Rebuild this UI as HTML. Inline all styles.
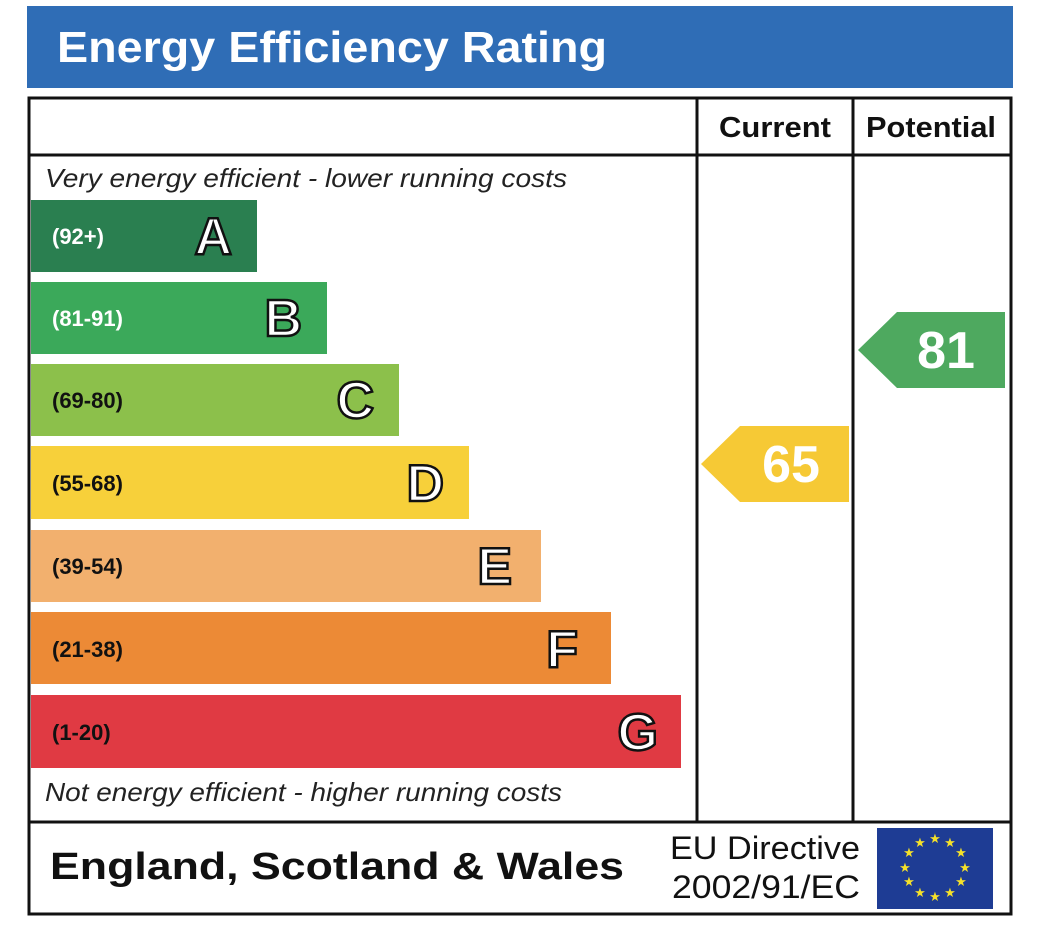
<!DOCTYPE html>
<html><head><meta charset="utf-8"><style>body{margin:0;background:#fff}svg{display:block}text{font-family:"Liberation Sans",Arial,sans-serif}</style></head>
<body>
<svg width="1048" height="934" viewBox="0 0 1048 934" xmlns="http://www.w3.org/2000/svg">
<rect x="27" y="6" width="986" height="82" fill="#2f6db6"/>
<text x="57" y="62" font-size="44" font-weight="bold" fill="#fff" textLength="550" lengthAdjust="spacingAndGlyphs">Energy Efficiency Rating</text>
<rect x="29" y="98" width="982" height="816" fill="#fff" stroke="#111" stroke-width="3"/>
<line x1="29" y1="155" x2="1011" y2="155" stroke="#111" stroke-width="3"/>
<line x1="29" y1="822" x2="1011" y2="822" stroke="#111" stroke-width="3"/>
<line x1="697" y1="98" x2="697" y2="822" stroke="#111" stroke-width="3"/>
<line x1="853" y1="98" x2="853" y2="822" stroke="#111" stroke-width="3"/>
<text x="719" y="137" font-size="29" font-weight="bold" fill="#111" textLength="112" lengthAdjust="spacingAndGlyphs">Current</text>
<text x="866" y="137" font-size="29" font-weight="bold" fill="#111" textLength="130" lengthAdjust="spacingAndGlyphs">Potential</text>
<text x="45" y="187" font-size="26" font-style="italic" fill="#222" textLength="522" lengthAdjust="spacingAndGlyphs">Very energy efficient - lower running costs</text>
<text x="45" y="801" font-size="26" font-style="italic" fill="#222" textLength="517" lengthAdjust="spacingAndGlyphs">Not energy efficient - higher running costs</text>
<g font-weight="bold">
<rect x="31" y="200" width="226" height="72" fill="#2a7f50"/>
<text x="52" y="244" font-size="22" fill="#fff">(92+)</text>
<text x="232" y="254" font-size="52" text-anchor="end" fill="#fff" stroke="#111" stroke-width="2.5">A</text>
<rect x="31" y="282" width="296" height="72" fill="#3ba95a"/>
<text x="52" y="326" font-size="22" fill="#fff">(81-91)</text>
<text x="302" y="336" font-size="52" text-anchor="end" fill="#fff" stroke="#111" stroke-width="2.5">B</text>
<rect x="31" y="364" width="368" height="72" fill="#8cc04b"/>
<text x="52" y="408" font-size="22" fill="#111">(69-80)</text>
<text x="374" y="418" font-size="52" text-anchor="end" fill="#fff" stroke="#111" stroke-width="2.5">C</text>
<rect x="31" y="446" width="438" height="73" fill="#f7d03a"/>
<text x="52" y="491" font-size="22" fill="#111">(55-68)</text>
<text x="444" y="501" font-size="52" text-anchor="end" fill="#fff" stroke="#111" stroke-width="2.5">D</text>
<rect x="31" y="530" width="510" height="72" fill="#f2b06e"/>
<text x="52" y="574" font-size="22" fill="#111">(39-54)</text>
<text x="512" y="584" font-size="52" text-anchor="end" fill="#fff" stroke="#111" stroke-width="2.5">E</text>
<rect x="31" y="612" width="580" height="72" fill="#ec8a36"/>
<text x="52" y="657" font-size="22" fill="#111">(21-38)</text>
<text x="578" y="667" font-size="52" text-anchor="end" fill="#fff" stroke="#111" stroke-width="2.5">F</text>
<rect x="31" y="695" width="650" height="73" fill="#e03a43"/>
<text x="52" y="740" font-size="22" fill="#111">(1-20)</text>
<text x="658" y="750" font-size="52" text-anchor="end" fill="#fff" stroke="#111" stroke-width="2.5">G</text>
<polygon points="701,464 740,426 849,426 849,502 740,502" fill="#f6c935"/>
<text x="791" y="482" font-size="52" text-anchor="middle" fill="#fff">65</text>
<polygon points="858,350 897,312 1005,312 1005,388 897,388" fill="#4ea95f"/>
<text x="946" y="368" font-size="52" text-anchor="middle" fill="#fff">81</text>
<text x="50" y="879" font-size="38" fill="#111" textLength="574" lengthAdjust="spacingAndGlyphs">England, Scotland &amp; Wales</text>
</g>
<text x="670" y="859" font-size="32" fill="#111" textLength="190" lengthAdjust="spacingAndGlyphs">EU Directive</text>
<text x="672" y="898" font-size="32" fill="#111" textLength="188" lengthAdjust="spacingAndGlyphs">2002/91/EC</text>
<rect x="877" y="828" width="116" height="81" fill="#1e3c94"/>
<g fill="#f5e12a" font-size="13" text-anchor="middle">
<text x="935" y="843">★</text><text x="950" y="847">★</text><text x="961" y="857">★</text><text x="965" y="872">★</text><text x="961" y="886">★</text><text x="950" y="897">★</text><text x="935" y="901">★</text><text x="920" y="897">★</text><text x="909" y="886">★</text><text x="905" y="872">★</text><text x="909" y="857">★</text><text x="920" y="847">★</text>
</g>
</svg>
</body></html>
